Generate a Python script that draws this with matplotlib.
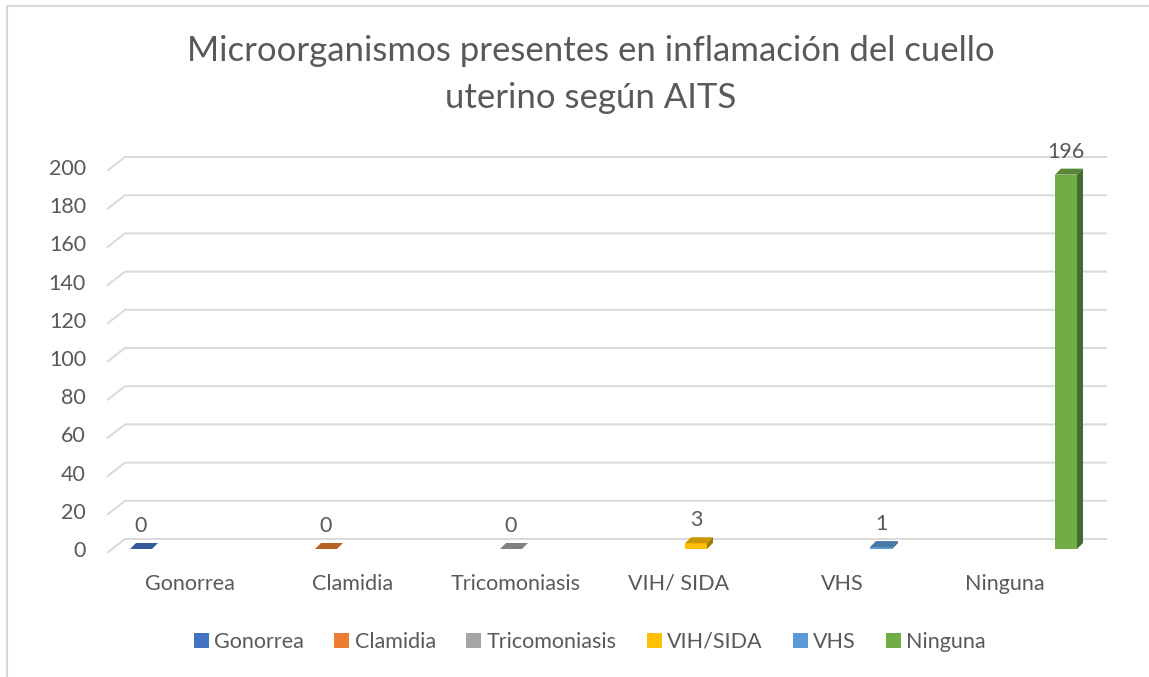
import matplotlib
matplotlib.use("Agg")
import matplotlib.pyplot as plt
from matplotlib.patches import Polygon, Patch
from matplotlib.lines import Line2D
import numpy as np

plt.rcParams['font.family'] = ['Lato', 'DejaVu Sans']

# data
categories = ['Gonorrea', 'Clamidia', 'Tricomoniasis', 'VIH/ SIDA', 'VHS', 'Ninguna']
series_names = ['Gonorrea', 'Clamidia', 'Tricomoniasis', 'VIH/SIDA', 'VHS', 'Ninguna']
values = [0, 0, 0, 3, 1, 196]
colors = ['#4472C4', '#ED7D31', '#A5A5A5', '#FFC000', '#5B9BD5', '#70AD47']
yticks = list(range(0, 201, 20))
title_lines = ['Microorganismos presentes en inflamación del cuello', 'uterino según AITS']

TXT = '#595959'
GRID = '#d9d9d9'
W, H = 1149, 677

fig = plt.figure(figsize=(W / 100, H / 100), dpi=100)

# axes covers the plane of the bar fronts
left_px, right_px, top_px, bot_px = 114.5, 1092.5, 167, 549
ax = fig.add_axes([left_px / W, (H - bot_px) / H, (right_px - left_px) / W, (bot_px - top_px) / H])
ax.set_xlim(-0.5, 5.5)
ax.set_ylim(0, 200)
ax.axis('off')

sx = (right_px - left_px) / 6.0      # px per category
sy = (bot_px - top_px) / 200.0       # px per unit


def dxp(p):
    return p / sx


def dyp(p):
    return p / sy


# back wall gridlines with the little stub on the side wall
x_front_left = -0.5 + dxp(107 - left_px)
x_back_left = -0.5 + dxp(125 - left_px)
x_back_right = -0.5 + dxp(1107 - left_px)
for v in yticks:
    ax.plot([x_front_left, x_back_left, x_back_right],
            [v - dyp(4), v + dyp(10), v + dyp(10)],
            color=GRID, lw=1.4, clip_on=False, zorder=1, solid_capstyle='butt')
    ax.text(-0.5 - dxp(left_px - 86), v - dyp(2), str(v), ha='right', va='center',
            fontsize=15.5, color=TXT, clip_on=False)


def shade(c, f):
    c = np.array(matplotlib.colors.to_rgb(c))
    return tuple(c * f)


# 3D looking columns: front face + top + side
w = 22 / sx
ddx, ddy = dxp(6), dyp(6)
for i, (val, col) in enumerate(zip(values, colors)):
    xc = i + (i - 2.5) * w
    x0, x1 = xc - w / 2, xc + w / 2
    ax.bar(xc, val, width=w, color=col, zorder=3, linewidth=0)
    top = Polygon([(x0, val), (x1, val), (x1 + ddx, val + ddy), (x0 + ddx, val + ddy)],
                  closed=True, facecolor=shade(col, 0.78), edgecolor='none', zorder=4, clip_on=False)
    ax.add_patch(top)
    if val > 0:
        side = Polygon([(x1, 0), (x1 + ddx, ddy), (x1 + ddx, val + ddy), (x1, val)],
                       closed=True, facecolor=shade(col, 0.62), edgecolor='none', zorder=4, clip_on=False)
        ax.add_patch(side)
    ax.annotate(str(val), (xc, val), xytext=(0, 17), textcoords='offset pixels',
                ha='center', va='baseline', fontsize=15.5, color=TXT, annotation_clip=False)

# category labels (front plane)
for k, cat in enumerate(categories):
    ax.text(k - dxp(6), -dyp(35), cat, ha='center', va='center', fontsize=15.5,
            color=TXT, clip_on=False)

# title
fig.text(591 / W, 1 - 51 / H, title_lines[0], ha='center', va='center', fontsize=25, color=TXT)
fig.text(591 / W, 1 - 98 / H, title_lines[1], ha='center', va='center', fontsize=25, color=TXT)

# legend
handles = [Patch(facecolor=c, edgecolor='none') for c in colors]
fig.legend(handles, series_names, loc='center', bbox_to_anchor=(590 / W, 1 - 642 / H),
           ncol=6, frameon=False, handlelength=0.7, handleheight=0.7, handletextpad=0.25,
           columnspacing=1.4, fontsize=15.5, labelcolor=TXT)

# chart frame (left and top edges visible)
fig.add_artist(Line2D([7 / W, 7 / W], [0, 1 - 6 / H], transform=fig.transFigure, color=GRID, lw=1.5))
fig.add_artist(Line2D([7 / W, 1], [1 - 6 / H, 1 - 6 / H], transform=fig.transFigure, color=GRID, lw=1.5))

fig.savefig('out.png', dpi=100)
